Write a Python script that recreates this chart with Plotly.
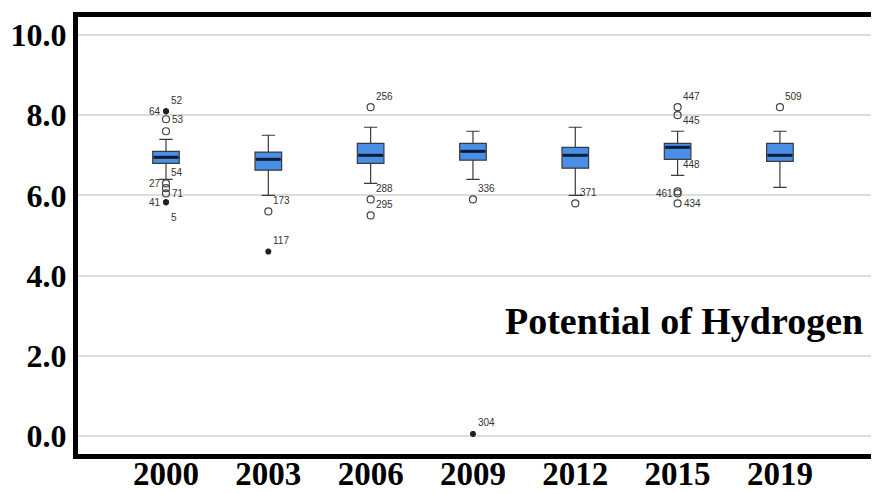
import plotly.graph_objects as go

# pH summary per survey year
years = ["2000", "2003", "2006", "2009", "2012", "2015", "2019"]
lower_whisker = [6.4, 6.0, 6.3, 6.4, 6.0, 6.5, 6.2]
q1 = [6.8, 6.63, 6.8, 6.88, 6.68, 6.9, 6.85]
median = [6.95, 6.9, 7.0, 7.1, 7.0, 7.2, 7.0]
q3 = [7.1, 7.08, 7.3, 7.3, 7.2, 7.3, 7.3]
upper_whisker = [7.4, 7.5, 7.7, 7.6, 7.7, 7.6, 7.6]

# outliers: year, pH value, kind ("o" mild, "*" extreme, "-" case at a whisker end), case label
out_year = ["2000", "2000", "2000", "2000", "2000", "2000", "2000", "2000", "2000", "2000",
            "2003", "2003",
            "2006", "2006", "2006",
            "2009", "2009",
            "2012",
            "2015", "2015", "2015", "2015", "2015", "2015", "2015",
            "2019"]
out_value = [8.1, 8.1, 7.9, 7.6, 6.3, 6.3, 6.18, 6.05, 5.83, 5.83,
             5.6, 4.6,
             8.2, 5.9, 5.5,
             5.9, 0.05,
             5.8,
             8.2, 8.0, 7.6, 6.1, 6.05, 5.8, 6.5,
             8.2]
out_kind = ["*", "*", "o", "o", "o", "-", "o", "o", "*", "*",
            "o", "*",
            "o", "o", "o",
            "o", "*",
            "o",
            "o", "o", "-", "o", "o", "o", "-",
            "o"]
out_label = ["64", "52", "53", "", "27", "54", "", "71", "41", "5",
             "173", "117",
             "256", "288", "295",
             "336", "304",
             "371",
             "447", "", "445", "", "461", "434", "448",
             "509"]

# label placement around each marker
placement = {"64": "l", "27": "l", "41": "l", "461": "l",
             "53": "r", "71": "r", "434": "r", "5": "dr"}

xpos = {y: i for i, y in enumerate(years)}
box_w = 0.26
serif = "Liberation Serif, Times New Roman, serif"

fig = go.Figure()

fig.add_trace(go.Box(
    x=[xpos[y] for y in years],
    q1=q1, median=median, q3=q3,
    lowerfence=lower_whisker, upperfence=upper_whisker,
    boxpoints=False, width=box_w, whiskerwidth=0.5,
    fillcolor="#4a8fe6",
    line=dict(color="#3a3a3a", width=1.2),
    hoverinfo="skip", showlegend=False,
))

# thick median bars
mx, my = [], []
for i, m in enumerate(median):
    mx += [i - box_w / 2 + 0.01, i + box_w / 2 - 0.01, None]
    my += [m, m, None]
fig.add_trace(go.Scatter(x=mx, y=my, mode="lines",
                         line=dict(color="#0b1a33", width=3),
                         hoverinfo="skip", showlegend=False))

cx = [xpos[y] for y, k in zip(out_year, out_kind) if k == "o"]
cy = [v for v, k in zip(out_value, out_kind) if k == "o"]
fig.add_trace(go.Scatter(x=cx, y=cy, mode="markers",
                         marker=dict(symbol="circle-open", size=7,
                                     color="#444444", line=dict(width=1.2)),
                         hoverinfo="skip", showlegend=False))
sx = [xpos[y] for y, k in zip(out_year, out_kind) if k == "*"]
sy = [v for v, k in zip(out_value, out_kind) if k == "*"]
fig.add_trace(go.Scatter(x=sx, y=sy, mode="markers",
                         marker=dict(symbol="asterisk-open", size=5,
                                     color="#222222", line=dict(width=2)),
                         hoverinfo="skip", showlegend=False))

for y, v, lab in zip(out_year, out_value, out_label):
    if not lab:
        continue
    pos = placement.get(lab, "ur")
    if pos == "l":
        xa, xs, ys = "right", -3, 0
    elif pos == "r":
        xa, xs, ys = "left", 4, 0
    elif pos == "dr":
        xa, xs, ys = "left", 3, -15
    else:
        xa, xs, ys = "left", 3, 11
    fig.add_annotation(x=xpos[y], y=v, text=lab, showarrow=False,
                       xanchor=xa, yanchor="middle", xshift=xs, yshift=ys,
                       font=dict(family="Liberation Sans, Arial", size=10, color="#333333"))

fig.add_annotation(x=0.992, y=0.305, xref="paper", yref="paper",
                   text="<b>Potential of Hydrogen</b>", showarrow=False,
                   xanchor="right", yanchor="middle",
                   font=dict(family=serif, size=38, color="#000000"))

fig.update_layout(
    width=873, height=494,
    margin=dict(l=78, r=2, t=17, b=40),
    paper_bgcolor="white", plot_bgcolor="white",
    xaxis=dict(range=[-0.86, 6.89], tickmode="array",
               tickvals=list(range(len(years))),
               ticktext=["<b>%s</b>" % y for y in years],
               showgrid=False, zeroline=False, automargin=False,
               showline=True, linewidth=5, linecolor="#000000", mirror=True,
               tickfont=dict(family=serif, size=33, color="#000000"),
               ticklabelstandoff=-14,
               ticks=""),
    yaxis=dict(range=[-0.45, 10.45], tickmode="array",
               tickvals=[0, 2, 4, 6, 8, 10],
               ticktext=["<b>0.0</b>", "<b>2.0</b>", "<b>4.0</b>", "<b>6.0</b>", "<b>8.0</b>", "<b>10.0</b>"],
               showgrid=True, gridcolor="#dddddd", gridwidth=2, zeroline=False,
               automargin=False,
               showline=True, linewidth=5, linecolor="#000000", mirror=False,
               tickfont=dict(family=serif, size=32, color="#000000"),
               ticks=""),
)

fig.write_html("out.html")
